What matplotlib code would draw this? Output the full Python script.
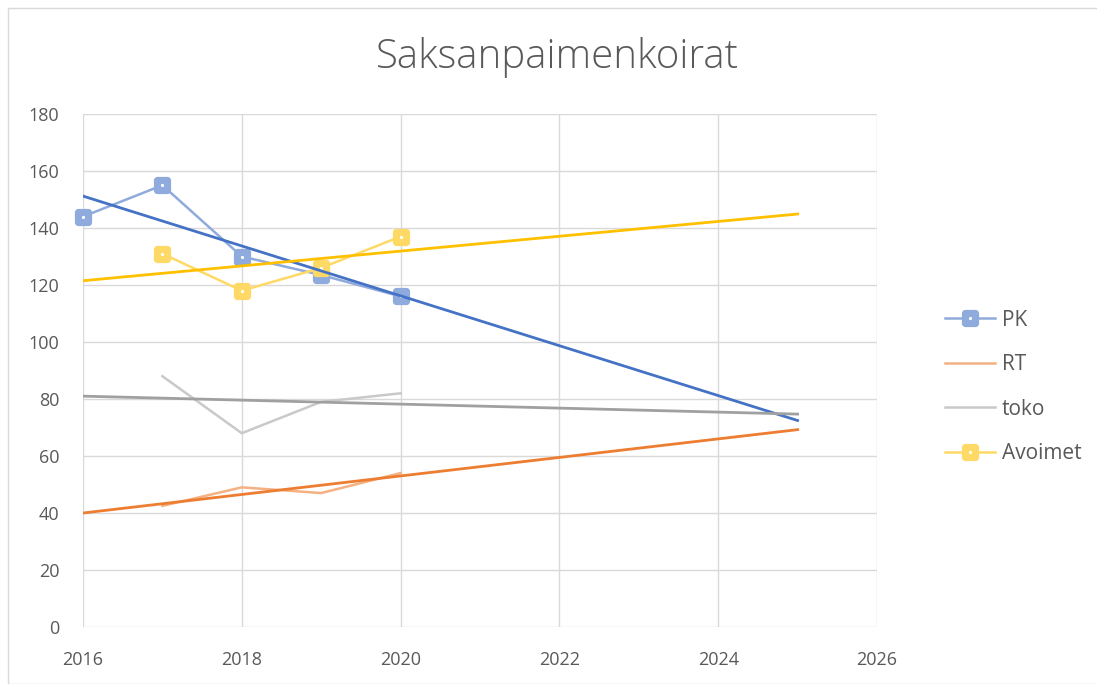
import numpy as np
import matplotlib
matplotlib.use("Agg")
import matplotlib.pyplot as plt
from matplotlib.markers import MarkerStyle
from matplotlib.patches import Rectangle

plt.rcParams['font.family'] = ['Open Sans', 'DejaVu Sans']

title = "Saksanpaimenkoirat"
years_pk = [2016, 2017, 2018, 2019, 2020]
pk = [144, 155, 130, 123.5, 116]
years = [2017, 2018, 2019, 2020]
rt = [42.5, 49, 47, 54]
toko = [88, 68, 79, 82]
avoimet = [131, 118, 126, 137]
trend_range = [2016, 2025]

fig = plt.figure(figsize=(10.97, 6.84), dpi=100)
ax = fig.add_axes([83 / 1097, 1 - 627 / 684, (877 - 83) / 1097, (627 - 114) / 684])

# outer chart border
fig.patches.append(Rectangle((8 / 1097, 0), 1, 1 - 8 / 684, transform=fig.transFigure,
                             fill=False, edgecolor='#D9D9D9', lw=1))

# square marker with a thick round-joined edge -> rounded box with a small white centre
sq = MarkerStyle('s', joinstyle='round')
series = [
    ('PK', years_pk, pk, '#8FAADC', '#4472C4', True),
    ('RT', years, rt, '#F4B183', '#ED7D31', False),
    ('toko', years, toko, '#C9C9C9', '#A0A0A0', False),
    ('Avoimet', years, avoimet, '#FFD966', '#FFC000', True),
]

tx = np.array(trend_range)
for name, xs, ys, col, tcol, markers in series:
    k, b = np.polyfit(xs, ys, 1)
    ax.plot(tx, k * tx + b, color=tcol, lw=2, zorder=4)

handles = []
for name, xs, ys, col, tcol, markers in series:
    if markers:
        ln, = ax.plot(xs, ys, color=col, lw=1.8, marker=sq, markersize=6.6,
                      markeredgewidth=5.2, markeredgecolor=col, markerfacecolor='white',
                      zorder=3, clip_on=False, label=name)
    else:
        ln, = ax.plot(xs, ys, color=col, lw=1.8, zorder=3, label=name)
    handles.append(ln)

ax.set_xlim(2016, 2026)
ax.set_ylim(0, 180)
ax.set_xticks(range(2016, 2027, 2))
ax.set_yticks(range(0, 181, 20))
ax.grid(True, color='#D9D9D9', lw=1)
ax.set_axisbelow(True)
for s in ax.spines.values():
    s.set_visible(False)
ax.tick_params(length=0, labelsize=13, colors='#595959')
ax.tick_params(axis='x', pad=17)
ax.tick_params(axis='y', pad=17)

fig.text(557 / 1097, 1 - 57 / 684, title, ha='center', va='center',
         fontsize=29, color='#595959', fontweight='light')

fig.legend(handles=handles, loc='center left', bbox_to_anchor=(935 / 1097, 1 - 387 / 684),
           frameon=False, fontsize=15, labelcolor='#595959', handlelength=2.4,
           labelspacing=1.13, handletextpad=0.3, borderpad=0)

fig.savefig('out.png', dpi=100)
